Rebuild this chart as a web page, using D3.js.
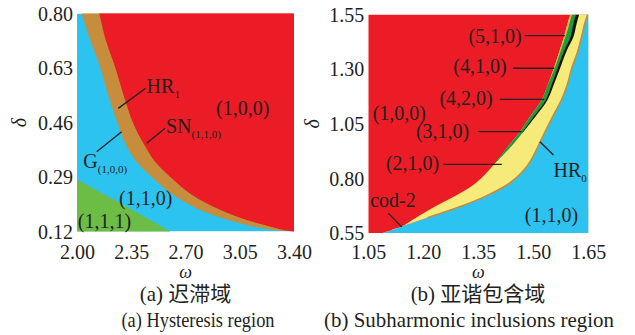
<!DOCTYPE html>
<html>
<head>
<meta charset="utf-8">
<script src="https://cdn.jsdelivr.net/npm/d3@7"></script>
<style>
  html, body { margin: 0; padding: 0; background: #fff; }
  svg { display: block; }
  text { font-family: "Liberation Serif", "Noto Sans CJK SC", serif; fill: #231f20; }
</style>
</head>
<body>
<script>
// ---------- panel (a): hysteresis region ----------
const omegaTicksA = [2.00, 2.35, 2.70, 3.05, 3.40];
const deltaTicksA = [0.12, 0.29, 0.46, 0.63, 0.80];
// G(1,0,0) boundary: blue (1,1,0) / brown HR1 band
const gOmegaA = [2.03, 2.09, 2.148, 2.21, 2.26, 2.31, 2.38, 2.48, 2.62, 2.79, 2.98, 3.16, 3.30, 3.40];
const gDeltaA = [0.80, 0.71, 0.634, 0.53, 0.46, 0.395, 0.34, 0.291, 0.235, 0.188, 0.155, 0.133, 0.123, 0.12];
// SN(1,1,0) boundary: brown HR1 band / red (1,0,0)
const snOmegaA = [2.144, 2.19, 2.245, 2.31, 2.36, 2.428, 2.50, 2.60, 2.74, 2.923, 3.10, 3.25, 3.33, 3.39];
const snDeltaA = [0.80, 0.71, 0.634, 0.53, 0.46, 0.395, 0.34, 0.291, 0.235, 0.188, 0.155, 0.135, 0.125, 0.12];
// upper edge of the (1,1,1) region
const p111OmegaA = [2.00, 2.32, 2.60];
const p111DeltaA = [0.282, 0.197, 0.12];

// ---------- panel (b): subharmonic inclusions region ----------
const omegaTicksB = [1.05, 1.20, 1.35, 1.50, 1.65];
const deltaTicksB = [0.55, 0.80, 1.05, 1.30, 1.55];
const bandDeltaB = [0.55, 0.58, 0.62, 0.67, 0.72, 0.78, 0.86, 0.95, 1.01, 1.09, 1.16, 1.23, 1.30, 1.38, 1.45, 1.50, 1.55];
// (1,0,0) edge of the subharmonic bands
const redEdgeB  = [1.090, 1.141, 1.180, 1.231, 1.288, 1.344, 1.391, 1.433, 1.462, 1.494, 1.523, 1.540, 1.555, 1.571, 1.584, 1.592, 1.601];
// HR0 edge towards (1,1,0)
const blueEdgeB = [1.090, 1.141, 1.211, 1.299, 1.372, 1.437, 1.485, 1.514, 1.531, 1.555, 1.577, 1.593, 1.604, 1.621, 1.632, 1.639, 1.648];
// higher-order band (green) with its thin (4,1,0)/(5,1,0) sliver on the red side
const greenDeltaB = [0.86, 0.95, 1.01, 1.09, 1.16, 1.23, 1.30, 1.38, 1.45, 1.50, 1.55];
const greenLeftB  = [1.391, 1.433, 1.462, 1.494, 1.523, 1.540, 1.557, 1.574, 1.588, 1.597, 1.605];
const greenRightB = [1.391, 1.442, 1.471, 1.505, 1.535, 1.551, 1.566, 1.584, 1.603, 1.609, 1.617];
// dark boundary line between the green band and (2,1,0)
const blackDeltaB = [1.01, 1.09, 1.16, 1.23, 1.30, 1.38, 1.45, 1.50, 1.55];
const blackRightB = [1.472, 1.509, 1.539, 1.556, 1.572, 1.590, 1.610, 1.617, 1.625];

const COLORS = {
  red: "#ec1c26", blue: "#2dc3f0", brown: "#c68d3c", lightGreen: "#6cbd45",
  yellow: "#f5ea7a", green: "#1f9b3d", black: "#151515", sliver: "#e9b83c", ink: "#231f20"
};

const W = 635, H = 335;
const TICK_BASELINE = 259;   // x tick labels of both panels share one baseline
const OMEGA_BASELINE = 278;
const svg = d3.select("body").append("svg").attr("width", W).attr("height", H);
const defs = svg.append("defs");

function makePanel(id, box, xDomain, yDomain) {
  const x = d3.scaleLinear().domain(xDomain).range([box.left, box.right]);
  const y = d3.scaleLinear().domain(yDomain).range([box.bottom, box.top]);
  defs.append("clipPath").attr("id", id)
    .append("rect").attr("x", box.left).attr("y", box.top)
    .attr("width", box.right - box.left).attr("height", box.bottom - box.top);
  const g = svg.append("g");
  const plot = g.append("g").attr("clip-path", `url(#${id})`);
  return { x, y, g, plot, box };
}

function axes(p, xTicks, yTicks, deltaLabelX) {
  const ax = d3.axisBottom(p.x).tickValues(xTicks).tickFormat(d3.format(".2f")).tickSize(0);
  const xa = p.g.append("g").attr("transform", `translate(0,${p.box.bottom})`).call(ax);
  xa.select(".domain").remove();
  xa.selectAll("text").attr("y", TICK_BASELINE - p.box.bottom).attr("dy", null)
    .style("font-size", "20px").style("font-family", "Liberation Serif").attr("fill", COLORS.ink);

  const ay = d3.axisLeft(p.y).tickValues(yTicks).tickFormat(d3.format(".2f")).tickSize(0);
  const ya = p.g.append("g").attr("transform", `translate(${p.box.left},0)`).call(ay);
  ya.select(".domain").remove();
  ya.selectAll("text").attr("x", -4).attr("dy", "0.34em")
    .style("font-size", "20px").style("font-family", "Liberation Serif").attr("fill", COLORS.ink);

  const cx = (p.box.left + p.box.right) / 2;
  p.g.append("text").attr("x", cx).attr("y", OMEGA_BASELINE).attr("text-anchor", "middle")
    .style("font-style", "italic").style("font-size", "18px").text("ω");
  const cy = (p.box.top + p.box.bottom) / 2;
  p.g.append("text").attr("transform", `translate(${deltaLabelX},${cy}) rotate(-90)`)
    .attr("text-anchor", "middle").attr("dy", "0.3em")
    .style("font-style", "italic").style("font-size", "20px").text("δ");
}

function label(p, w, d, main, sub, anchor) {
  const t = p.g.append("text").attr("x", p.x(w)).attr("y", p.y(d))
    .attr("text-anchor", anchor || "start").style("font-size", "20px");
  t.append("tspan").text(main);
  if (sub) t.append("tspan").attr("dy", 5).style("font-size", "11px").text(sub);
  return t;
}

function leader(p, w0, d0, w1, d1) {
  p.g.append("line")
    .attr("x1", p.x(w0)).attr("y1", p.y(d0)).attr("x2", p.x(w1)).attr("y2", p.y(d1))
    .attr("stroke", COLORS.ink).attr("stroke-width", 1.3);
}

// ================= panel (a) =================
const A = makePanel("clipA", { left: 77, right: 294, top: 13.5, bottom: 231.5 }, [2.00, 3.40], [0.12, 0.80]);
{
  const { x, y, plot } = A;
  const line = d3.line().x(d => x(d[0])).y(d => y(d[1])).curve(d3.curveCatmullRom);
  const gPts = gOmegaA.map((w, i) => [w, gDeltaA[i]]);
  const snPts = snOmegaA.map((w, i) => [w, snDeltaA[i]]);
  const gr = p111OmegaA.map((w, i) => [w, p111DeltaA[i]]);

  plot.append("rect").attr("x", x(2.00)).attr("y", y(0.80))
    .attr("width", x(3.40) - x(2.00)).attr("height", y(0.12) - y(0.80)).attr("fill", COLORS.blue);
  // HR1 band and everything to its right
  plot.append("path").attr("fill", COLORS.brown)
    .attr("d", line(gPts) + `L${x(3.45)},${y(0.10)}L${x(3.45)},${y(0.85)}L${x(gOmegaA[0])},${y(0.85)}Z`);
  // (1,0,0)
  plot.append("path").attr("fill", COLORS.red)
    .attr("d", line(snPts) + `L${x(3.45)},${y(0.10)}L${x(3.45)},${y(0.85)}L${x(snOmegaA[0])},${y(0.85)}Z`);
  // (1,1,1)
  plot.append("path").attr("fill", COLORS.lightGreen)
    .attr("d", line(gr) + `L${x(2.60)},${y(0.10)}L${x(1.95)},${y(0.10)}L${x(1.95)},${y(0.282)}Z`);

  axes(A, omegaTicksA, deltaTicksA, 20);

  label(A, 2.449, 0.553, "HR", "1");
  leader(A, 2.443, 0.567, 2.266, 0.504);
  label(A, 2.897, 0.483, "(1,0,0)");
  label(A, 2.574, 0.428, "SN", "(1,1,0)");
  leader(A, 2.568, 0.442, 2.450, 0.395);
  label(A, 2.041, 0.318, "G", "(1,0,0)");
  leader(A, 2.127, 0.369, 2.288, 0.431);
  label(A, 2.271, 0.203, "(1,1,0)");
  label(A, 2.005, 0.132, "(1,1,1)");
}

// ================= panel (b) =================
const B = makePanel("clipB", { left: 368.3, right: 588.3, top: 14.5, bottom: 233 }, [1.05, 1.65], [0.55, 1.55]);
{
  const { x, y, plot } = B;
  const edge = d3.line().y(d => y(d[1])).x(d => x(d[0])).curve(d3.curveCatmullRom);
  const band = d3.area().y(d => y(d.d)).x0(d => x(d.l)).x1(d => x(d.r)).curve(d3.curveCatmullRom);

  const bluePts = blueEdgeB.map((w, i) => [w, bandDeltaB[i]]);

  plot.append("rect").attr("x", x(1.05)).attr("y", y(1.55))
    .attr("width", x(1.65) - x(1.05)).attr("height", y(0.55) - y(1.55)).attr("fill", COLORS.red);
  // (1,1,0)
  plot.append("path").attr("fill", COLORS.blue)
    .attr("d", edge(bluePts) + `L${x(1.70)},${y(1.60)}L${x(1.70)},${y(0.50)}L${x(1.090)},${y(0.50)}Z`);
  // (2,1,0)
  plot.append("path").attr("fill", COLORS.yellow)
    .attr("d", band(bandDeltaB.map((d, i) => ({ d, l: redEdgeB[i], r: blueEdgeB[i] }))));
  // thin (4,1,0)/(5,1,0) sliver next to the red region
  const redAt = d => redEdgeB[bandDeltaB.indexOf(d)];
  plot.append("path").attr("fill", COLORS.sliver)
    .attr("d", band(greenDeltaB.map((d, i) => ({ d, l: redAt(d), r: greenLeftB[i] }))));
  // (3,1,0)/(4,2,0) green band
  plot.append("path").attr("fill", COLORS.green)
    .attr("d", band(greenDeltaB.map((d, i) => ({ d, l: greenLeftB[i], r: greenRightB[i] }))));
  // dark boundary strip
  const greenAt = d => greenRightB[greenDeltaB.indexOf(d)];
  plot.append("path").attr("fill", COLORS.black)
    .attr("d", band(blackDeltaB.map((d, i) => ({ d, l: greenAt(d) - 0.001, r: blackRightB[i] }))));
  // HR0 edge
  plot.append("path").attr("fill", "none").attr("stroke", COLORS.brown).attr("stroke-width", 1.6)
    .attr("d", edge(bluePts.slice(2)));

  axes(B, omegaTicksB, deltaTicksB, 313);

  label(B, 1.323, 1.420, "(5,1,0)");
  leader(B, 1.477, 1.453, 1.586, 1.453);
  label(B, 1.282, 1.282, "(4,1,0)");
  leader(B, 1.445, 1.304, 1.557, 1.304);
  label(B, 1.244, 1.136, "(4,2,0)");
  leader(B, 1.409, 1.162, 1.530, 1.162);
  label(B, 1.180, 0.983, "(3,1,0)");
  leader(B, 1.350, 1.014, 1.468, 1.014);
  label(B, 1.098, 0.838, "(2,1,0)");
  leader(B, 1.255, 0.864, 1.414, 0.864);
  label(B, 1.062, 1.067, "(1,0,0)");
  label(B, 1.055, 0.670, "cod-2");
  leader(B, 1.105, 0.640, 1.141, 0.578);
  label(B, 1.555, 0.808, "HR", "0");
  leader(B, 1.518, 0.968, 1.555, 0.907);
  label(B, 1.477, 0.602, "(1,1,0)");
}

// ---------- captions ----------
const captionZh = ["(a) 迟滞域", "(b) 亚谐包含域"];
const captionEn = ["(a) Hysteresis region", "(b) Subharmonic inclusions region"];
const captionZhX = [185.5, 478];
const captionEnX = [198, 469];
const captionEnLen = [153, 290];
captionZh.forEach((t, i) => {
  svg.append("text").attr("x", captionZhX[i]).attr("y", 301).attr("text-anchor", "middle")
    .style("font-size", "21px").text(t);
});
captionEn.forEach((t, i) => {
  svg.append("text").attr("x", captionEnX[i]).attr("y", 327).attr("text-anchor", "middle")
    .attr("textLength", captionEnLen[i]).attr("lengthAdjust", "spacingAndGlyphs")
    .style("font-size", "21px").text(t);
});
</script>
</body>
</html>
